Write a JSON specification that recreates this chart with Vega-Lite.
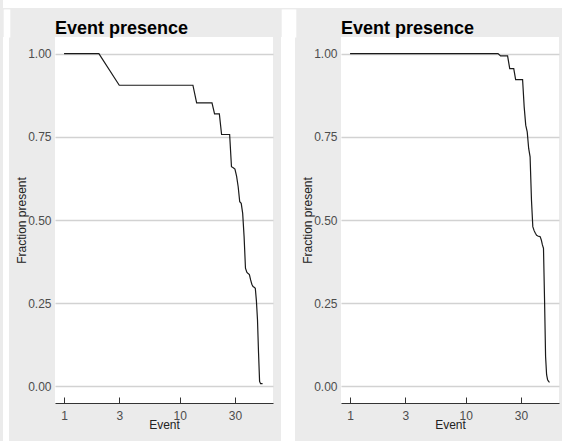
{
  "$schema": "https://vega.github.io/schema/vega-lite/v6.json",
  "background": "#ebebeb",
  "padding": 0,
  "spacing": 0,
  "config": {
    "font": "Liberation Sans",
    "view": {"stroke": null, "fill": "white"},
    "title": {"fontSize": 18, "fontWeight": "bold", "anchor": "start", "frame": "group", "color": "#000000", "offset": -1, "baseline": "bottom"},
    "axis": {"labelFontSize": 12, "labelColor": "#4d4d4d", "titleFontSize": 12, "titleFontWeight": "normal", "titleColor": "#222222"},
    "axisY": {"ticks": false, "domain": false, "gridColor": "#d2d2d2", "gridWidth": 1.5, "labelPadding": 4, "titlePadding": -1},
    "axisX": {"grid": false, "domainColor": "#333333", "domainWidth": 1, "tickColor": "#333333", "tickSize": -6, "labelPadding": 13, "titlePadding": -2}
  },
  "datasets": {
    "left": [
      {"event": 1, "fraction": 1.0}, {"event": 2, "fraction": 1.0}, {"event": 3, "fraction": 0.905},
      {"event": 4, "fraction": 0.905}, {"event": 5, "fraction": 0.905}, {"event": 6, "fraction": 0.905},
      {"event": 7, "fraction": 0.905}, {"event": 8, "fraction": 0.905}, {"event": 9, "fraction": 0.905},
      {"event": 10, "fraction": 0.905}, {"event": 11, "fraction": 0.905}, {"event": 12, "fraction": 0.905},
      {"event": 13, "fraction": 0.905}, {"event": 14, "fraction": 0.852}, {"event": 15, "fraction": 0.852},
      {"event": 16, "fraction": 0.852}, {"event": 17, "fraction": 0.852}, {"event": 18, "fraction": 0.852},
      {"event": 19, "fraction": 0.852}, {"event": 20, "fraction": 0.819}, {"event": 21, "fraction": 0.819},
      {"event": 22, "fraction": 0.819}, {"event": 23, "fraction": 0.757}, {"event": 24, "fraction": 0.757},
      {"event": 25, "fraction": 0.757}, {"event": 26, "fraction": 0.757}, {"event": 27, "fraction": 0.757},
      {"event": 28, "fraction": 0.66}, {"event": 29, "fraction": 0.657}, {"event": 30, "fraction": 0.653},
      {"event": 31, "fraction": 0.632}, {"event": 32, "fraction": 0.6}, {"event": 33, "fraction": 0.555},
      {"event": 34, "fraction": 0.55}, {"event": 35, "fraction": 0.52}, {"event": 36, "fraction": 0.45},
      {"event": 37, "fraction": 0.355}, {"event": 38, "fraction": 0.343}, {"event": 39, "fraction": 0.339},
      {"event": 40, "fraction": 0.336}, {"event": 41, "fraction": 0.32}, {"event": 42, "fraction": 0.307},
      {"event": 43, "fraction": 0.3}, {"event": 44, "fraction": 0.298}, {"event": 45, "fraction": 0.295},
      {"event": 46, "fraction": 0.257}, {"event": 47, "fraction": 0.2}, {"event": 48, "fraction": 0.1},
      {"event": 49, "fraction": 0.015}, {"event": 50, "fraction": 0.008}, {"event": 51, "fraction": 0.008},
      {"event": 52, "fraction": 0.008}
    ],
    "right": [
      {"event": 1, "fraction": 1.0}, {"event": 2, "fraction": 1.0}, {"event": 3, "fraction": 1.0},
      {"event": 4, "fraction": 1.0}, {"event": 5, "fraction": 1.0}, {"event": 6, "fraction": 1.0},
      {"event": 7, "fraction": 1.0}, {"event": 8, "fraction": 1.0}, {"event": 9, "fraction": 1.0},
      {"event": 10, "fraction": 1.0}, {"event": 11, "fraction": 1.0}, {"event": 12, "fraction": 1.0},
      {"event": 13, "fraction": 1.0}, {"event": 14, "fraction": 1.0}, {"event": 15, "fraction": 1.0},
      {"event": 16, "fraction": 1.0}, {"event": 17, "fraction": 1.0}, {"event": 18, "fraction": 1.0},
      {"event": 19, "fraction": 1.0}, {"event": 20, "fraction": 0.993}, {"event": 21, "fraction": 0.993},
      {"event": 22, "fraction": 0.993}, {"event": 23, "fraction": 0.993}, {"event": 24, "fraction": 0.955},
      {"event": 25, "fraction": 0.955}, {"event": 26, "fraction": 0.955}, {"event": 27, "fraction": 0.922},
      {"event": 28, "fraction": 0.922}, {"event": 29, "fraction": 0.922}, {"event": 30, "fraction": 0.922},
      {"event": 31, "fraction": 0.922}, {"event": 32, "fraction": 0.84}, {"event": 33, "fraction": 0.785},
      {"event": 34, "fraction": 0.765}, {"event": 35, "fraction": 0.715}, {"event": 36, "fraction": 0.69},
      {"event": 37, "fraction": 0.56}, {"event": 38, "fraction": 0.48}, {"event": 39, "fraction": 0.468},
      {"event": 40, "fraction": 0.46}, {"event": 41, "fraction": 0.454}, {"event": 42, "fraction": 0.452},
      {"event": 43, "fraction": 0.451}, {"event": 44, "fraction": 0.45}, {"event": 45, "fraction": 0.44},
      {"event": 46, "fraction": 0.425}, {"event": 47, "fraction": 0.415}, {"event": 48, "fraction": 0.26},
      {"event": 49, "fraction": 0.09}, {"event": 50, "fraction": 0.035}, {"event": 51, "fraction": 0.02},
      {"event": 52, "fraction": 0.015}, {"event": 53, "fraction": 0.012}
    ]
  },
  "vconcat": [
    {
      "width": 562, "height": 8,
      "data": {"values": [{"v": 0.5}]},
      "mark": {"type": "point", "opacity": 0},
      "encoding": {},
      "view": {"fill": "white", "stroke": null}
    },
    {
      "spacing": 5,
      "hconcat": [
        {
          "width": 6, "height": 404,
          "data": {"values": [{"v": 0.5}]},
          "mark": {"type": "point", "opacity": 0},
          "encoding": {
            "x": {"field": "v", "type": "quantitative", "scale": {"domain": [0, 6], "nice": false},
                  "axis": {"orient": "top", "values": [0.5, 1.5, 2.5, 3.5, 4.5, 5.5], "tickSize": 28, "tickWidth": 1.6, "tickColor": "white", "labels": false, "domain": false, "grid": false, "title": null, "labelPadding": 0, "minExtent": 0, "offset": 0}}
          },
          "view": {"fill": "white", "stroke": null}
        },
        {
          "title": "Event presence",
          "width": 218, "height": 366,
          "data": {"name": "left"},
          "mark": {"type": "line", "color": "#1a1a1a", "strokeWidth": 1.2},
          "encoding": {
            "x": {"field": "event", "type": "quantitative", "title": "Event",
                  "scale": {"type": "log", "domain": [0.835, 64], "nice": false},
                  "axis": {"values": [1, 3, 10, 30], "format": "d"}},
            "y": {"field": "fraction", "type": "quantitative", "title": "Fraction present",
                  "scale": {"domain": [-0.05, 1.05], "nice": false, "zero": false},
                  "axis": {"values": [0, 0.25, 0.5, 0.75, 1], "format": ".2f"}}
          }
        },
        {
          "width": 14, "height": 404,
          "data": {"values": [{"v": 0.5}]},
          "mark": {"type": "point", "opacity": 0},
          "encoding": {
            "x": {"field": "v", "type": "quantitative", "scale": {"domain": [0, 14], "nice": false},
                  "axis": {"orient": "top", "values": [0.5, 1.5, 2.5, 3.5, 4.5, 5.5, 6.5, 7.5, 8.5, 9.5, 10.5, 11.5, 12.5, 13.5], "tickSize": 28, "tickWidth": 1.6, "tickColor": "white", "labels": false, "domain": false, "grid": false, "title": null, "labelPadding": 0, "minExtent": 0, "offset": 0}}
          },
          "view": {"fill": "white", "stroke": null}
        },
        {
          "title": "Event presence",
          "width": 218, "height": 366,
          "data": {"name": "right"},
          "mark": {"type": "line", "color": "#1a1a1a", "strokeWidth": 1.2},
          "encoding": {
            "x": {"field": "event", "type": "quantitative", "title": "Event",
                  "scale": {"type": "log", "domain": [0.835, 64], "nice": false},
                  "axis": {"values": [1, 3, 10, 30], "format": "d"}},
            "y": {"field": "fraction", "type": "quantitative", "title": "Fraction present",
                  "scale": {"domain": [-0.05, 1.05], "nice": false, "zero": false},
                  "axis": {"values": [0, 0.25, 0.5, 0.75, 1], "format": ".2f"}}
          }
        }
      ]
    }
  ]
}
